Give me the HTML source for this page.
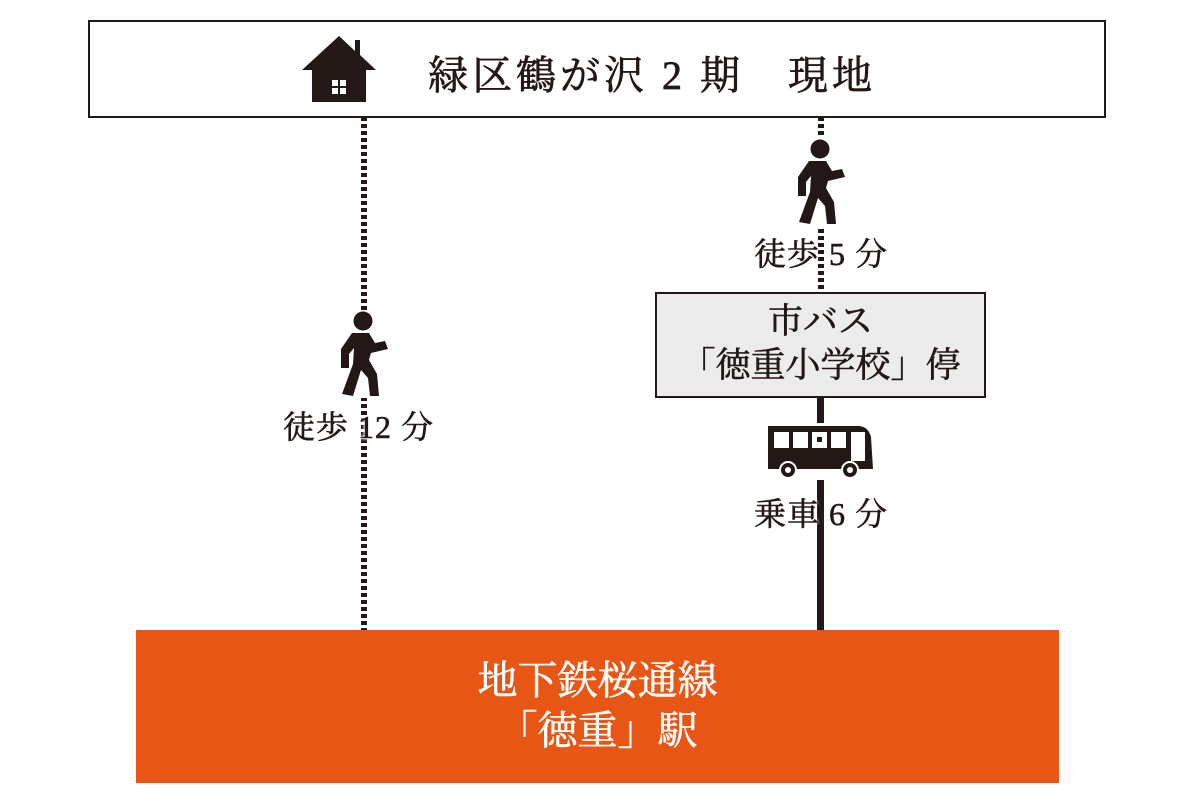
<!DOCTYPE html>
<html><head><meta charset="utf-8"><style>
body{margin:0;width:1194px;height:800px;background:#fff;position:relative;overflow:hidden;font-family:"Liberation Serif","Noto Serif CJK JP","Noto Serif CJK SC",serif;color:#231815}
.a{position:absolute}
.dot{position:absolute;width:6px;background:repeating-linear-gradient(#231815 0 4px,transparent 4px 7px)}
.lbl{position:absolute;font-size:32px;letter-spacing:1px;white-space:nowrap;-webkit-text-stroke:0.6px #231815;text-shadow:0 0 3px #fff,0 0 3px #fff,0 0 3px #fff}
</style></head><body>
<div class="dot" style="left:361px;top:117px;height:513px"></div>
<div class="dot" style="left:818px;top:117px;height:175px"></div>
<div class="a" style="left:817px;top:398px;width:7px;height:232px;background:#231815"></div>

<div class="a" style="left:88px;top:20px;width:1014px;height:94px;border:2px solid #231815;background:#fff"></div>
<svg class="a" style="left:300px;top:34px" width="78" height="70" viewBox="0 0 78 70">
<polygon points="39,2 2,36 12,36 12,68 66,68 66,36 76,36 60,21 60,6 55,6 55,17" fill="#231815"/>
<rect x="32" y="46" width="6" height="6" fill="#fff"/><rect x="40" y="46" width="6" height="6" fill="#fff"/>
<rect x="32" y="54" width="6" height="6" fill="#fff"/><rect x="40" y="54" width="6" height="6" fill="#fff"/>
</svg>
<div class="a" style="left:428px;top:44px;font-size:40px;letter-spacing:4px;white-space:nowrap;-webkit-text-stroke:0.7px #231815">緑区鶴が沢 2 期　現地</div>

<svg class="a" style="left:336px;top:310px;background:#fff" width="56" height="88" viewBox="0 0 56 88">
<g fill="#231815"><circle cx="27" cy="11" r="9.5"/>
<path d="M16 23 L33 23 L39 33 L49 31 L52 39 L35 43 L33 50 L41 64 L43 86 L34 86 L32 68 L25 60 L17 86 L6 84 L17 54 L18 38 L13 44 L13 58 L5 58 L5 39 Z"/></g></svg>
<div class="lbl" style="left:283px;top:402px">徒歩 12 分</div>

<svg class="a" style="left:793px;top:138px;background:#fff" width="56" height="88" viewBox="0 0 56 88">
<g fill="#231815"><circle cx="27" cy="11" r="9.5"/>
<path d="M16 23 L33 23 L39 33 L49 31 L52 39 L35 43 L33 50 L41 64 L43 86 L34 86 L32 68 L25 60 L17 86 L6 84 L17 54 L18 38 L13 44 L13 58 L5 58 L5 39 Z"/></g></svg>
<div class="lbl" style="left:754px;top:229px">徒歩 5 分</div>

<div class="a" style="left:655px;top:292px;width:327px;border:2px solid #231815;background:#ececec;text-align:center;font-size:35px;line-height:44px;padding-top:6px;height:96px;-webkit-text-stroke:0.6px #231815">市バス<br>「徳重小学校」停</div>

<svg class="a" style="left:764px;top:423px;background:#fff" width="112" height="57" viewBox="0 0 112 57">
<path d="M4 3 H94 Q104 3 107 14 L109 46 H4 Z" fill="#231815"/>
<rect x="10" y="9" width="15" height="16" fill="#fff"/><rect x="29" y="9" width="15" height="16" fill="#fff"/>
<rect x="48" y="9" width="15" height="16" fill="#fff"/><rect x="67" y="9" width="15" height="16" fill="#fff"/>
<rect x="53" y="14" width="5" height="5" fill="#231815"/>
<rect x="87" y="9" width="14" height="29" fill="#fff"/>
<circle cx="24" cy="47" r="8" fill="#231815" stroke="#fff" stroke-width="2"/><circle cx="24" cy="47" r="3" fill="#fff"/>
<circle cx="86" cy="47" r="8" fill="#231815" stroke="#fff" stroke-width="2"/><circle cx="86" cy="47" r="3" fill="#fff"/>
</svg>
<div class="lbl" style="left:754px;top:489px">乗車 6 分</div>

<div class="a" style="left:136px;top:630px;width:923px;height:153px;background:#e85615;color:#fff;text-align:center;font-size:40px;line-height:50px;padding-top:26px;box-sizing:border-box;-webkit-text-stroke:0.6px #fff">地下鉄桜通線<br>「徳重」駅</div>
</body></html>
